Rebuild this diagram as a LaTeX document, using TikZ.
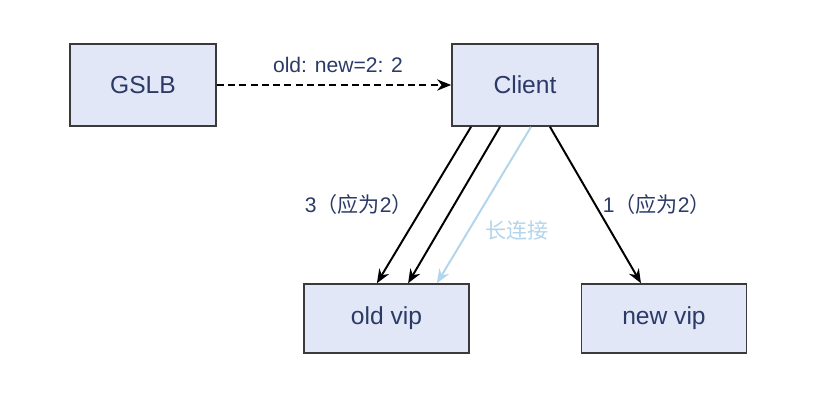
\documentclass[tikz,border=0pt]{standalone}
\usepackage{fontspec}
\setmainfont{Liberation Sans}
\newfontfamily\cjk{Noto Sans CJK SC}
\usetikzlibrary{arrows.meta}
\definecolor{boxfill}{HTML}{E1E7F6}
\definecolor{boxline}{HTML}{3A3A3A}
\definecolor{navy}{HTML}{2B3A67}
\definecolor{keepblue}{HTML}{B3D4EA}
\tikzset{
  box/.style={draw=boxline, line width=1.2pt, fill=boxfill, text=navy,
    font=\fontsize{17.5}{19}\selectfont, minimum width=3.65cm, minimum height=2.05cm},
  vipbox/.style={box, minimum width=4.12cm, minimum height=1.72cm},
  lbl/.style={text=navy, font=\fontsize{15}{17}\selectfont},
  conn/.style={-{Stealth[length=10pt,width=8pt]}, line width=1.4pt}
}
\begin{document}
\begin{tikzpicture}
\useasboundingbox (0,0) rectangle (20.75,-10.325);
\node[box](gslb)      at (3.575,-2.125)   {GSLB};
\node[box](client)    at (13.125,-2.125)  {Client};
\node[vipbox](oldvip) at (9.6625,-7.9625) {old vip};
\node[vipbox](newvip) at (16.6,-7.9625)   {new vip};

\node[lbl](ratio)   at (8.45,-1.625) {old: new=2: 2};
\node[lbl](oldcnt)  at (8.97,-5.1)   {3{\cjk（应为}2{\cjk）}};
\node[lbl,text=keepblue](keep) at (12.925,-5.775) {\cjk 长连接};
\node[lbl](newcnt)  at (16.42,-5.1)  {1{\cjk（应为}2{\cjk）}};

\draw[conn,dashed,dash pattern=on 5pt off 3pt] (gslb) to (client);
\draw[conn] ([xshift=-1.35cm]client.south)  to ([xshift=-0.24cm]oldvip.north);
\draw[conn] ([xshift=-0.625cm]client.south) to ([xshift=0.54cm]oldvip.north);
\draw[conn,keepblue] ([xshift=0.15cm]client.south) to ([xshift=1.26cm]oldvip.north);
\draw[conn] ([xshift=0.625cm]client.south)  to ([xshift=-0.575cm]newvip.north);
\end{tikzpicture}
\end{document}
